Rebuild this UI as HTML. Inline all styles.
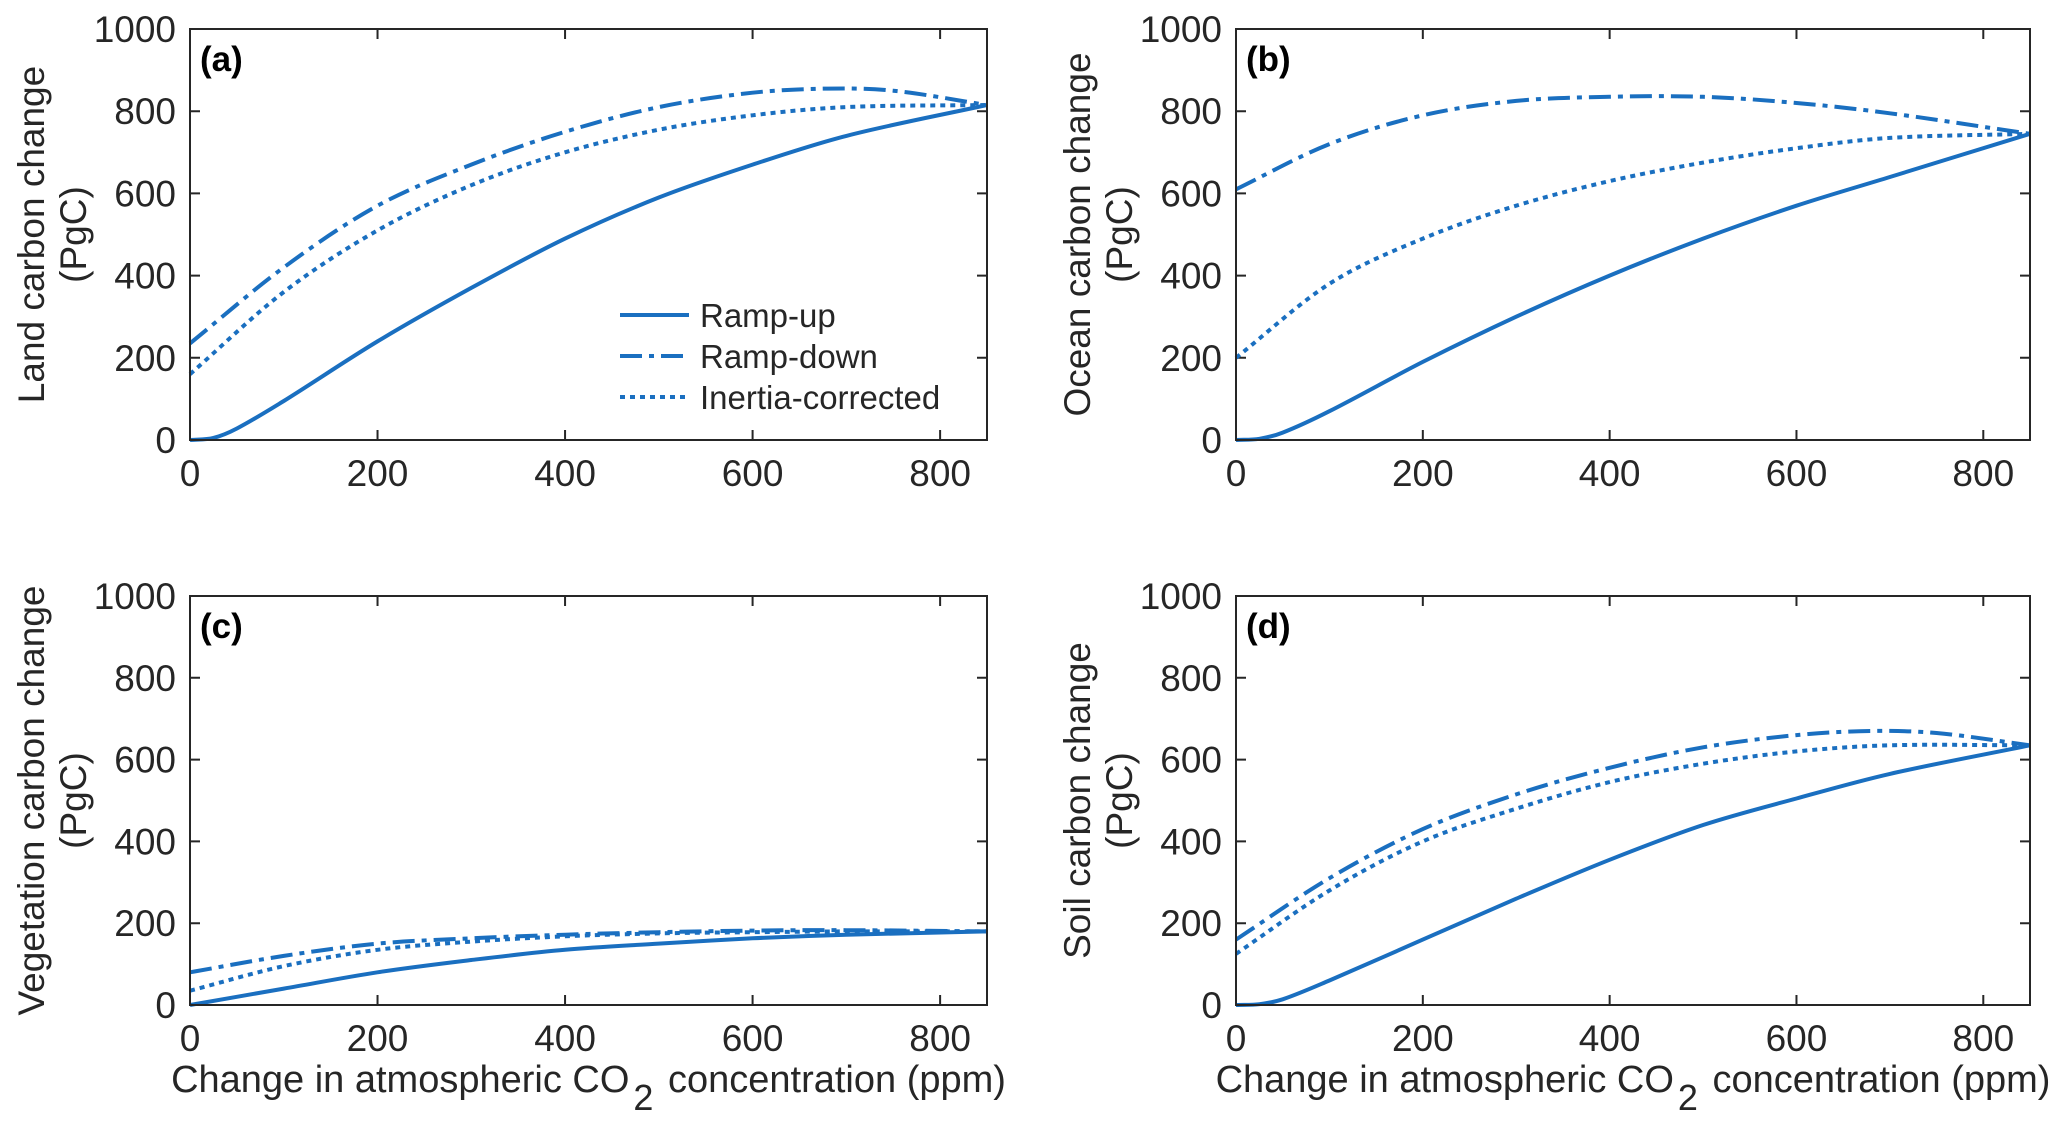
<!DOCTYPE html>
<html><head><meta charset="utf-8"><style>
html,body{margin:0;padding:0;background:#fff;}
svg{display:block;font-family:"Liberation Sans",Arial,sans-serif;}
</style></head><body>
<svg id="fig" width="2067" height="1133" viewBox="0 0 2067 1133"></svg>
<script>
const xTicks=[0,200,400,600,800];
const yTicks=[0,200,400,600,800,1000];
const xMax=850, yMax=1000;
const seriesNames=["Ramp-up","Ramp-down","Inertia-corrected"];
// panel (a) land
const landX=[0,25,50,100,200,300,400,500,600,700,850];
const landUp=[0,5,28,95,240,370,490,590,670,740,815];
const landDownX=[0,100,200,300,400,500,600,680,750,850];
const landDown=[235,420,570,670,750,810,845,855,850,815];
const landInX=[0,100,200,300,400,500,600,700,850];
const landIn=[160,360,510,620,700,755,790,810,815];
// panel (b) ocean
const oceanUpX=[0,25,50,100,200,300,400,500,600,700,850];
const oceanUp=[0,3,18,70,190,300,400,490,570,640,745];
const oceanDownX=[0,100,200,300,400,500,600,700,850];
const oceanDown=[610,720,790,825,835,835,820,795,745];
const oceanInX=[0,100,200,300,400,500,600,700,850];
const oceanIn=[200,380,490,570,630,675,710,735,745];
// panel (c) vegetation
const vegX=[0,100,200,300,400,500,600,700,850];
const vegUp=[0,40,80,110,135,150,163,172,180];
const vegDown=[80,120,150,163,172,178,182,183,180];
const vegIn=[35,95,135,155,168,175,178,180,180];
// panel (d) soil
const soilUpX=[0,25,50,100,200,300,400,500,600,700,850];
const soilUp=[0,2,14,60,160,260,355,440,505,565,635];
const soilDownX=[0,100,200,300,400,500,600,680,750,850];
const soilDown=[160,310,430,515,580,630,660,670,665,635];
const soilInX=[0,100,200,300,400,500,600,700,850];
const soilIn=[125,280,400,480,545,590,620,635,635];

const NS="http://www.w3.org/2000/svg";
const svg=document.getElementById('fig');
const COL="#1a6fc0";
const dashes=[null,"22,7,5,7","5,5"];
function mk(tag,attrs,parent){const e=document.createElementNS(NS,tag);for(const k in attrs)e.setAttribute(k,attrs[k]);(parent||svg).appendChild(e);return e;}

const panels=[
 {id:"a",L:190,T:29,R:987,B:440,title:"Land carbon change",xs:[landX,landDownX,landInX],ys:[landUp,landDown,landIn],legend:true,xlab:false,labx:30},
 {id:"b",L:1236,T:29,R:2030,B:440,title:"Ocean carbon change",xs:[oceanUpX,oceanDownX,oceanInX],ys:[oceanUp,oceanDown,oceanIn],legend:false,xlab:false,labx:1076},
 {id:"c",L:190,T:596,R:987,B:1005,title:"Vegetation carbon change",xs:[vegX,vegX,vegX],ys:[vegUp,vegDown,vegIn],legend:false,xlab:true,labx:30},
 {id:"d",L:1236,T:596,R:2030,B:1005,title:"Soil carbon change",xs:[soilUpX,soilDownX,soilInX],ys:[soilUp,soilDown,soilIn],legend:false,xlab:true,labx:1076}
];

function curve(xs,ys,sx,sy){
 const n=xs.length,m=[];
 for(let i=0;i<n;i++){
  if(i===0)m.push((ys[1]-ys[0])/(xs[1]-xs[0]));
  else if(i===n-1)m.push((ys[n-1]-ys[n-2])/(xs[n-1]-xs[n-2]));
  else m.push((ys[i+1]-ys[i-1])/(xs[i+1]-xs[i-1]));
 }
 let d="M"+sx(xs[0]).toFixed(1)+","+sy(ys[0]).toFixed(1);
 for(let i=0;i<n-1;i++){
  const h=xs[i+1]-xs[i];
  const c1x=xs[i]+h/3,c1y=ys[i]+m[i]*h/3;
  const c2x=xs[i+1]-h/3,c2y=ys[i+1]-m[i+1]*h/3;
  d+=" C"+sx(c1x).toFixed(1)+","+sy(c1y).toFixed(1)+" "+sx(c2x).toFixed(1)+","+sy(c2y).toFixed(1)+" "+sx(xs[i+1]).toFixed(1)+","+sy(ys[i+1]).toFixed(1);
 }
 return d;
}

panels.forEach(p=>{
 const g=mk('g',{});
 
 
 const sx=v=>p.L+(v/xMax)*(p.R-p.L);
 const sy=v=>p.B-(v/yMax)*(p.B-p.T);
 xTicks.forEach(t=>{
  const x=sx(t);
  const tk=mk('path',{d:`M${x},${p.B}v-10M${x},${p.T}v10`,stroke:"#262626","stroke-width":2,fill:"none"},g);
  
  
  const tl=mk('text',{x:x,y:p.B+46,"font-size":37,"text-anchor":"middle",fill:"#262626"},g);
  tl.textContent=t;
  
  
 });
 yTicks.forEach(t=>{
  const y=sy(t);
  const tk=mk('path',{d:`M${p.L},${y}h10M${p.R},${y}h-10`,stroke:"#262626","stroke-width":2,fill:"none"},g);
  
  
  const tl=mk('text',{x:p.L-14,y:y+13,"font-size":37,"text-anchor":"end",fill:"#262626"},g);
  tl.textContent=t;
  
  
 });
 for(let s=0;s<3;s++){
  const a={d:curve(p.xs[s],p.ys[s],sx,sy),stroke:COL,"stroke-width":4,fill:"none"};
  if(dashes[s])a["stroke-dasharray"]=dashes[s];
  const ln=mk('path',a,g);
  
  
 }
 const box=mk('rect',{x:p.L,y:p.T,width:p.R-p.L,height:p.B-p.T,fill:"none",stroke:"#262626","stroke-width":2},g);
 
 
 const pl=mk('text',{x:p.L+10,y:p.T+42,"font-size":35,"font-weight":"bold",fill:"#000"},g);
 pl.textContent="("+p.id+")";
 
 
 const cy=(p.T+p.B)/2;
 const yl=mk('text',{x:0,y:0,"font-size":37,"text-anchor":"middle",fill:"#262626",transform:`translate(${p.labx+14},${cy}) rotate(-90)`},g);
 yl.textContent=p.title;
 
 
 const yl2=mk('text',{x:0,y:0,"font-size":37,"text-anchor":"middle",fill:"#262626",transform:`translate(${p.labx+56},${cy}) rotate(-90)`},g);
 yl2.textContent="(PgC)";
 
 
 if(p.xlab){
  const xl=mk('text',{x:(p.L+p.R)/2,y:p.B+87,"font-size":38,"text-anchor":"middle",fill:"#262626"},g);
  xl.innerHTML='Change in atmospheric CO<tspan dx="4" dy="18" font-size="36">2</tspan><tspan dx="4" dy="-18"> concentration (ppm)</tspan>';
  
  
 }
 if(p.legend){
  const lg=mk('g',{},g);
  
  
  const ly=[315,356,397];
  for(let s=0;s<3;s++){
   const a={d:`M620,${ly[s]}h69`,stroke:COL,"stroke-width":4,fill:"none"};
   if(dashes[s])a["stroke-dasharray"]=dashes[s];
   const l=mk('path',a,lg);
   
   
   const t=mk('text',{x:700,y:ly[s]+12,"font-size":33,fill:"#262626"},lg);
   t.textContent=seriesNames[s];
   
   
  }
 }
});
</script>
</body></html>
